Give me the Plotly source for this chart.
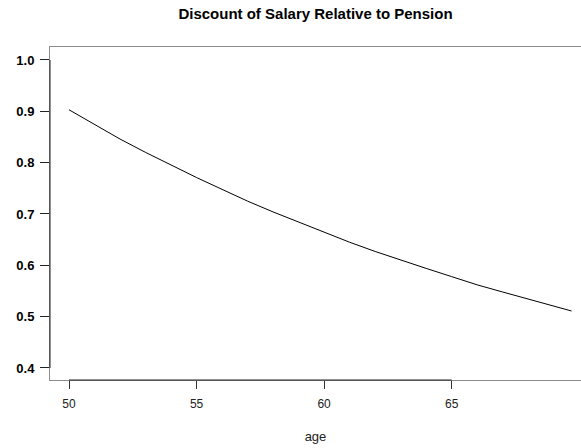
import plotly.graph_objs as go

# discount of salary relative to pension
age = [50, 51, 52, 53, 54, 55, 56, 57, 58, 59,
       60, 61, 62, 63, 64, 65, 66, 67, 68, 69, 69.7]
discount = [0.903, 0.874, 0.846, 0.820, 0.795, 0.771, 0.748, 0.725, 0.704, 0.684,
            0.664, 0.645, 0.627, 0.610, 0.594, 0.578, 0.562, 0.548, 0.534, 0.520, 0.511]

x_ticks = [50, 55, 60, 65]
y_ticks = [0.4, 0.5, 0.6, 0.7, 0.8, 0.9, 1.0]

font = "Liberation Sans, Arial, sans-serif"

data = [go.Scatter(x=age, y=discount, mode="lines",
                   line=dict(color="black", width=1), showlegend=False)]

layout = go.Layout(
    width=581, height=448,
    margin=dict(l=50, r=0, t=47, b=68),
    paper_bgcolor="white", plot_bgcolor="white",
    title=dict(text="<b>Discount of Salary Relative to Pension</b>",
               x=0.5, xref="paper", xanchor="center",
               y=1 - 14 / 448, yanchor="middle",
               font=dict(family=font, size=15, color="black")),
    xaxis=dict(range=[49.255, 70.07], tickvals=x_ticks,
               ticktext=[str(v) for v in x_ticks],
               showgrid=False, zeroline=False,
               showline=True, linecolor="#8c8c8c", linewidth=1, mirror=True,
               ticks="outside", ticklen=8, tickcolor="#333333",
               ticklabelstandoff=5,
               tickfont=dict(family=font, size=12, color="#222222"),
               title=dict(text="age", standoff=21,
                          font=dict(family=font, size=13, color="#222222"))),
    yaxis=dict(range=[0.3766, 1.0253], tickvals=y_ticks,
               ticktext=["%.1f" % v for v in y_ticks],
               showgrid=False, zeroline=False,
               showline=True, linecolor="#8c8c8c", linewidth=1,
               ticks="outside", ticklen=9, tickcolor="#222222",
               ticklabelstandoff=3,
               tickfont=dict(family=font, size=13, color="black", weight="bold")),
    shapes=[
        # darker axis segments like R's axis()
        dict(type="line", xref="x", yref="paper", x0=x_ticks[0], x1=x_ticks[-1],
             y0=0, y1=0, line=dict(color="#222222", width=1)),
        dict(type="line", xref="paper", yref="y", x0=0, x1=0,
             y0=y_ticks[0], y1=y_ticks[-1], line=dict(color="#222222", width=1)),
    ],
)

fig = go.Figure(data=data, layout=layout)
# drop the default body margin so the figure sits at the window corner
fig.write_html("out.html", config={"displayModeBar": False},
               post_script="document.body.style.margin='0';")
